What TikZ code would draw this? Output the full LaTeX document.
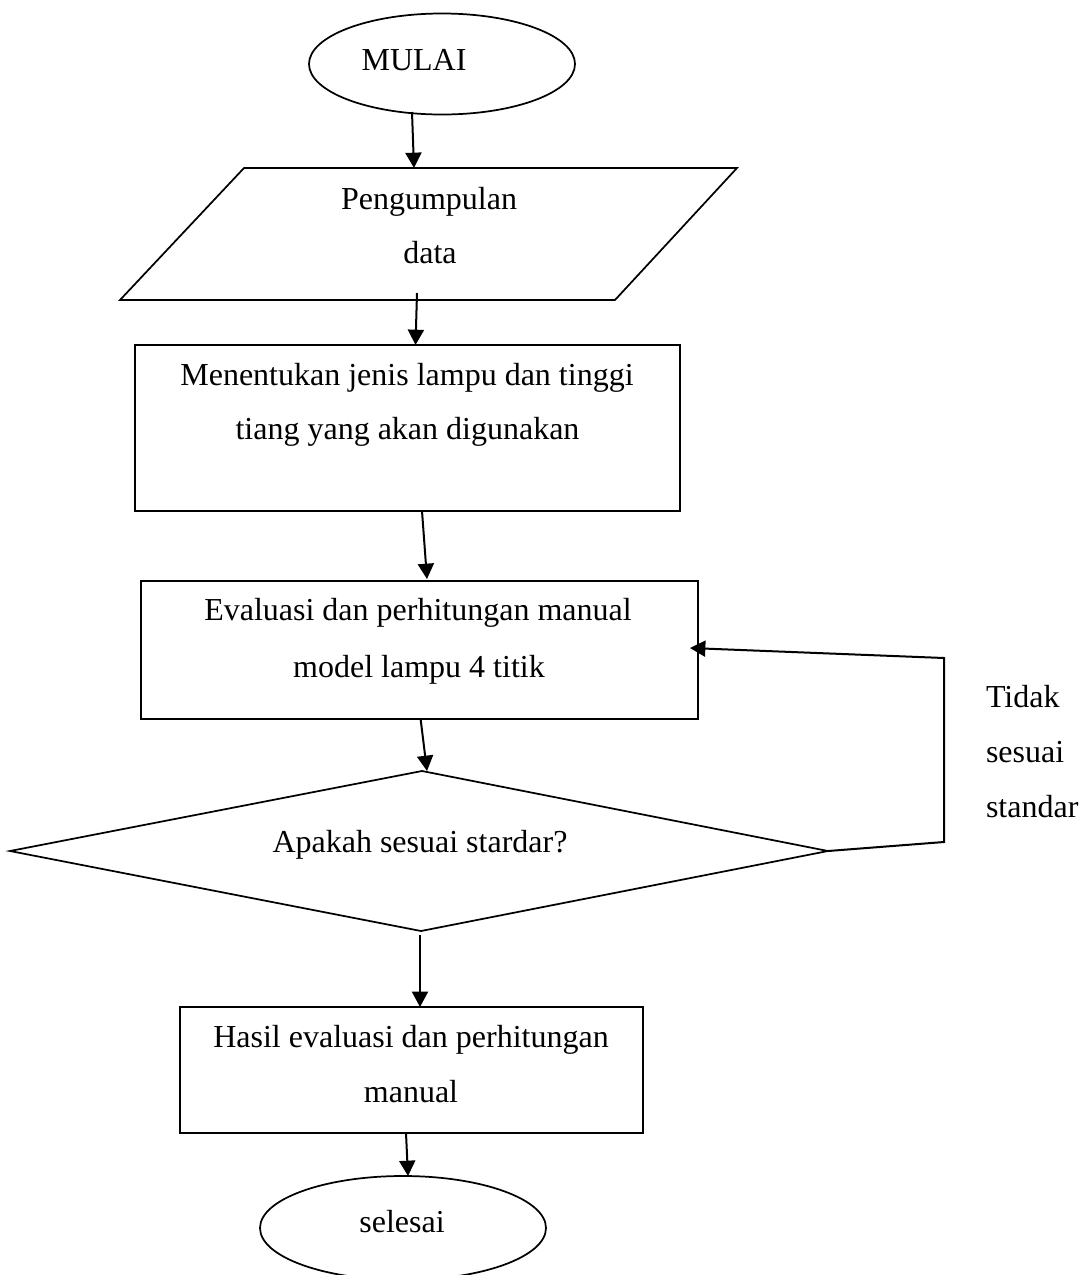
\documentclass[tikz,border=0pt]{standalone}
\usepackage{fontspec}
\setmainfont{Liberation Serif}
\usetikzlibrary{arrows.meta,shapes.geometric}
\begin{document}
\begin{tikzpicture}[x=0.75pt,y=-0.75pt,
  every node/.style={font=\fontsize{24}{29}\selectfont, inner sep=0pt, outer sep=0pt},
  shapeline/.style={line width=1.3pt},
  boxnode/.style={draw, rectangle, line width=1.2pt},
  ovalnode/.style={draw, ellipse, line width=1.3pt},
  flow/.style={line width=1.5pt, -{Triangle[length=11.5pt,width=12pt]}},
  lbl/.style={anchor=base}
]
\useasboundingbox (0,0) rectangle (1081,1275);
\clip (0,0) rectangle (1081,1275);

% start
\node[ovalnode, minimum width=199.5pt, minimum height=75.75pt] (start) at (442,64) {};
\node[lbl] (tstart) at (414,70) {MULAI};

% data parallelogram
\coordinate (pTL) at (244,168);
\coordinate (pTR) at (737,168);
\coordinate (pBR) at (615,300);
\coordinate (pBL) at (120,300);
\draw[shapeline] (pTL) -- (pTR) -- (pBR) -- (pBL) -- cycle;
\node[lbl] (tdata1) at (429,209) {Pengumpulan};
\node[lbl] (tdata2) at (430,263) {data};

% box 1
\node[boxnode, minimum width=408.75pt, minimum height=124.5pt] (box1) at (407.5,428) {};
\node[lbl] (tbox1a) at (407,385) {Menentukan jenis lampu dan tinggi};
\node[lbl] (tbox1b) at (407.5,439) {tiang yang akan digunakan};

% box 2
\node[boxnode, minimum width=417.75pt, minimum height=103.5pt] (box2) at (419.5,650) {};
\node[lbl] (tbox2a) at (418,620) {Evaluasi dan perhitungan manual};
\node[lbl] (tbox2b) at (419,677) {model lampu 4 titik};

% decision
\coordinate (dT) at (422,771);
\coordinate (dR) at (828,851);
\coordinate (dB) at (421,931);
\coordinate (dL) at (10,851);
\draw[shapeline] (dT) -- (dR) -- (dB) -- (dL) -- cycle;
\node[lbl] (tdec) at (420,852) {Apakah sesuai stardar?};

% box 3
\node[boxnode, minimum width=347.25pt, minimum height=94.5pt] (box3) at (411.5,1070) {};
\node[lbl] (tbox3a) at (411,1047) {Hasil evaluasi dan perhitungan};
\node[lbl] (tbox3b) at (411,1102) {manual};

% end
\node[ovalnode, minimum width=214.5pt, minimum height=78pt] (stop) at (403,1228) {};
\node[lbl] (tstop) at (402,1232) {selesai};

% side label
\node[anchor=base west] (tno1) at (986,707) {Tidak};
\node[anchor=base west] (tno2) at (986,762) {sesuai};
\node[anchor=base west] (tno3) at (986,817) {standar};

% connector coordinates
\coordinate (a1s) at (412,112);
\coordinate (a1e) at (414,168);
\coordinate (a2s) at (417,293);
\coordinate (a2e) at (415.5,345);
\coordinate (a3s) at (422,511);
\coordinate (a3e) at (427,579);
\coordinate (a4s) at (420.6,719);
\coordinate (a4e) at (427,771);
\coordinate (a5s) at (420,935);
\coordinate (a5e) at (420,1007);
\coordinate (a6s) at (406,1133);
\coordinate (a6e) at (408,1176);
\coordinate (fb1) at (944,842);
\coordinate (fb2) at (944,658);
\coordinate (fbe) at (690,648);

\draw[flow] (a1s) -- (a1e);
\draw[flow] (a2s) -- (a2e);
\draw[flow] (a3s) -- (a3e);
\draw[flow] (a4s) -- (a4e);
\draw[flow] (a5s) -- (a5e);
\draw[flow] (a6s) -- (a6e);
\draw[flow] (dR) -- (fb1) -- (fb2) -- (fbe);
\end{tikzpicture}
\end{document}
